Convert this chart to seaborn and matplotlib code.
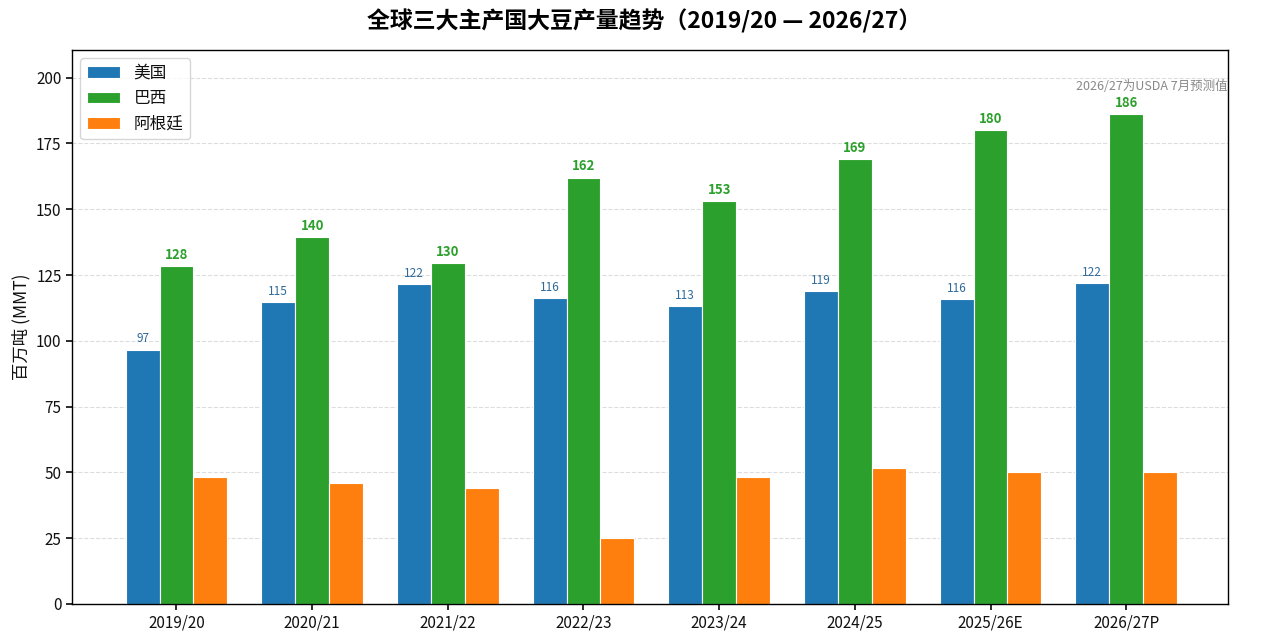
import pandas as pd
import matplotlib
matplotlib.use("Agg")
import matplotlib.pyplot as plt
import seaborn as sns

years = ["2019/20", "2020/21", "2021/22", "2022/23", "2023/24", "2024/25", "2025/26E", "2026/27P"]
us = [96.7, 114.7, 121.5, 116.2, 113.3, 118.8, 115.8, 121.8]
brazil = [128.5, 139.5, 129.5, 162.0, 153.0, 169.0, 180.0, 186.0]
argentina = [48.4, 46.1, 43.9, 25.0, 48.1, 51.7, 50.0, 50.0]
countries = ["美国", "巴西", "阿根廷"]
colors = ["#1f77b4", "#2ca02c", "#ff7f0e"]

sns.set_theme(style="white")
plt.rcParams['font.family'] = ['Noto Sans CJK SC', 'DejaVu Sans']
plt.rcParams['axes.unicode_minus'] = False
plt.rcParams['text.color'] = '#111111'
plt.rcParams['axes.labelcolor'] = '#111111'
plt.rcParams['xtick.color'] = '#111111'
plt.rcParams['ytick.color'] = '#111111'

rows = []
for name, vals in zip(countries, [us, brazil, argentina]):
    for y, v in zip(years, vals):
        rows.append({"year": y, "value": v, "country": name})
df = pd.DataFrame(rows)

fig = plt.figure(figsize=(12.68, 6.42), dpi=100)
ax = fig.add_axes([0.0568, 0.0592, 0.9116, 0.8629])

sns.barplot(data=df, x="year", y="value", hue="country", hue_order=countries,
            palette=colors, saturation=1, width=0.75, edgecolor="white",
            linewidth=0.8, ax=ax)

# 数值标签：美国常规，巴西加粗，阿根廷不标
ax.bar_label(ax.containers[0], labels=[f"{v:.0f}" for v in us], padding=3,
             fontsize=8.5, color="#2f6a9a")
ax.bar_label(ax.containers[1], labels=[f"{v:.0f}" for v in brazil], padding=3,
             fontsize=9.5, color="#2ca02c", fontweight="bold")

ax.set_ylim(0, 210.5)
ax.set_xlim(-0.77, 7.75)
ax.set_yticks(range(0, 201, 25))
ax.yaxis.grid(True, linestyle="--", color="#dddddd", linewidth=0.8)
ax.set_axisbelow(True)
ax.set_xlabel("")
ax.set_ylabel("百万吨 (MMT)", fontsize=12.5)
ax.tick_params(axis="both", labelsize=11, length=4, bottom=True, left=True)
for s in ax.spines.values():
    s.set_color("black")
    s.set_linewidth(1.0)

ax.legend(loc="upper left", fontsize=12, frameon=True, title=None, handlelength=2.0)
ax.text(1.0, 0.935, "2026/27为USDA 7月预测值", transform=ax.transAxes,
        ha="right", va="center", fontsize=9, color="#888888")

fig.suptitle("全球三大主产国大豆产量趋势（2019/20 — 2026/27）", fontsize=16.5,
             fontweight="bold", y=0.985, x=0.508, color="black")

fig.savefig("out.png", dpi=100)
